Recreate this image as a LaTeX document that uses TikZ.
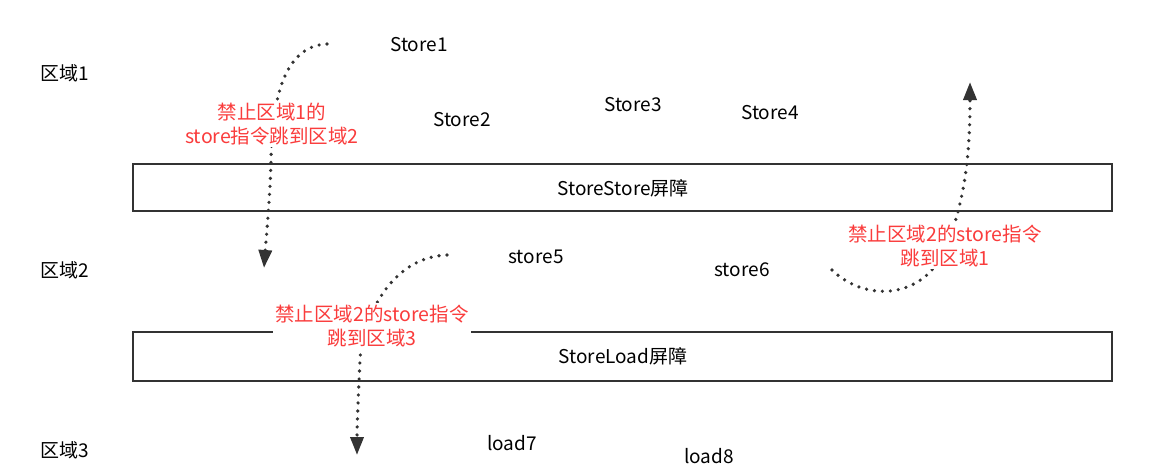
\documentclass[tikz,border=0pt]{standalone}
\usepackage{fontspec}
\setmainfont{Noto Sans CJK SC}
\usepackage{tikz}
\usetikzlibrary{arrows.meta}
\definecolor{barrierline}{RGB}{51,51,51}
\definecolor{noteRed}{RGB}{250,60,60}

\tikzset{
    txt/.style={font=\fontsize{19}{23}\selectfont, inner sep=0pt},
    note/.style={txt, font=\fontsize{19.5}{24}\selectfont, text=noteRed, fill=white, align=center, inner sep=2pt},
    barrier/.style={draw=barrierline, line width=2.8pt},
    jump/.style={barrierline, line width=3.6pt, line cap=round, dash pattern=on 0pt off 8pt,
        -{Triangle[length=18pt,width=13pt]}}
}

\begin{document}
\begin{tikzpicture}[x=1pt,y=-1pt]
    \useasboundingbox (0,0) rectangle (1159,464);
    % regions
    \node[txt] (r1) at (65,73) {区域1};
    \node[txt] (r2) at (65,270) {区域2};
    \node[txt] (r3) at (65,450) {区域3};
    % instructions
    \node[txt] (s1) at (419,45) {Store1};
    \node[txt] (s2) at (462,120) {Store2};
    \node[txt] (s3) at (633,105) {Store3};
    \node[txt] (s4) at (770,113) {Store4};
    \node[txt] (s5) at (536,257) {store5};
    \node[txt] (s6) at (742,270) {store6};
    \node[txt] (l7) at (512,443) {load7};
    \node[txt] (l8) at (709,456) {load8};
    % barriers
    \draw[barrier] (133,164) rectangle (1112,211);
    \node[txt] (ss) at (623,188) {StoreStore屏障};
    \draw[barrier] (133,332) rectangle (1112,381);
    \node[txt] (sl) at (623,356) {StoreLoad屏障};
    % forbidden jumps
    \coordinate (a1) at (327,44);
    \coordinate (b1) at (264,268);
    \coordinate (a2) at (447,255);
    \coordinate (b2) at (357,455);
    \coordinate (a3) at (832,270);
    \coordinate (m3) at (945,250);
    \coordinate (b3) at (970,82);
    \draw[jump] (a1) .. controls (280,46) and (272,110) .. (271,160) .. controls (270,200) and (266,240) .. (b1);
    \draw[jump] (a2) .. controls (390,257) and (362,320) .. (360,360) .. controls (358,400) and (357,430) .. (b2);
    \draw[jump] (a3) .. controls (865,302) and (922,300) .. (m3) .. controls (966,200) and (970,150) .. (b3);
    \node[note] (n1) at (272,124) {禁止区域1的\\store指令跳到区域2};
    \node[note] (n2) at (372,326) {禁止区域2的store指令\\跳到区域3};
    \node[note] (n3) at (945,246) {禁止区域2的store指令\\跳到区域1};
\end{tikzpicture}
\end{document}
